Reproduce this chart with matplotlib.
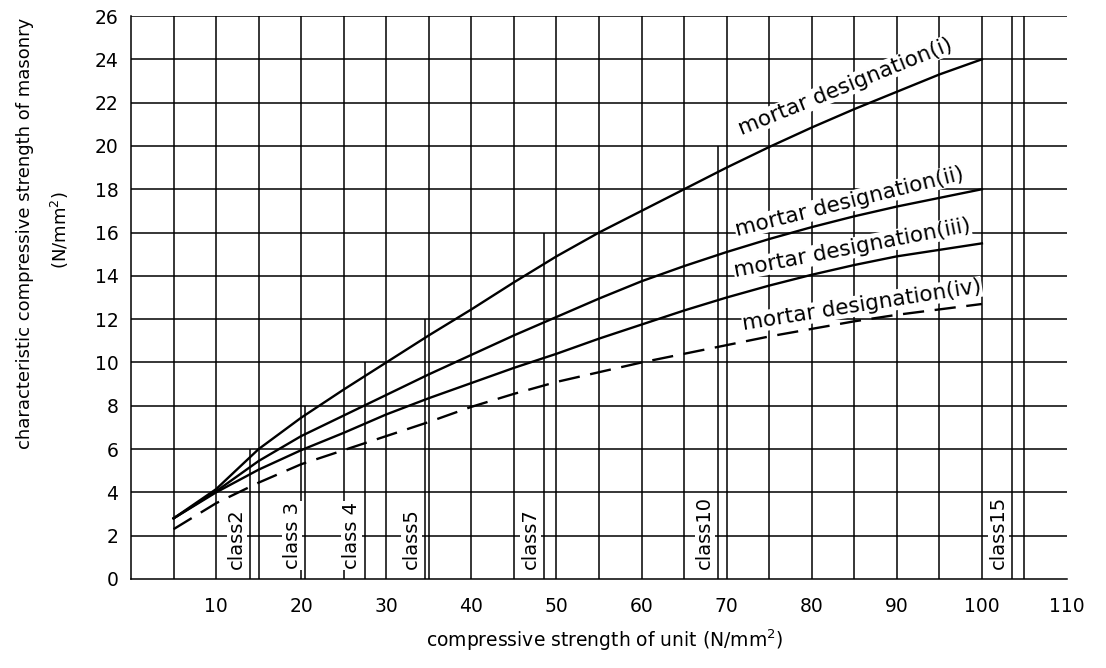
import numpy as np
import matplotlib as mpl
mpl.use('Agg')
import matplotlib.pyplot as plt

unit_strength = [5, 10, 15, 20, 25, 30, 35, 40, 45, 50,
                 55, 60, 65, 70, 75, 80, 85, 90, 95, 100]
mortar_i   = [2.8, 4.15, 6.0, 7.45, 8.75, 10.0, 11.25, 12.45, 13.7, 14.9,
              16.0, 17.0, 18.0, 19.0, 19.95, 20.85, 21.7, 22.5, 23.3, 24.0]
mortar_ii  = [2.8, 4.05, 5.45, 6.6, 7.55, 8.5, 9.45, 10.35, 11.25, 12.1,
              12.95, 13.75, 14.45, 15.1, 15.7, 16.25, 16.75, 17.2, 17.6, 18.0]
mortar_iii = [2.8, 4.0, 5.05, 5.95, 6.75, 7.6, 8.35, 9.05, 9.75, 10.4,
              11.1, 11.75, 12.4, 13.0, 13.55, 14.05, 14.5, 14.9, 15.2, 15.5]
mortar_iv  = [2.3, 3.5, 4.45, 5.3, 5.95, 6.6, 7.25, 7.95, 8.55, 9.1,
              9.55, 10.0, 10.4, 10.8, 11.2, 11.55, 11.9, 12.2, 12.45, 12.7]

# brick classes: position on unit strength axis and height of marker line
class_names = ['class2', 'class 3', 'class 4', 'class5', 'class7', 'class10', 'class15']
class_x     = [14, 20.5, 27.5, 34.5, 48.5, 69, 103.5]
class_top   = [6, 8, 10, 12, 16, 20, 26]

xtick_vals = [10, 20, 30, 40, 50, 60, 70, 80, 90, 100, 110]
ytick_vals = list(range(0, 27, 2))

plt.rcParams['font.family'] = ['DejaVu Sans']

fig = plt.figure(figsize=(11.06, 6.68), dpi=100)
ax = fig.add_axes([131/1106, 1-579/668, (1067-131)/1106, (579-16)/668])
ax.set_xlim(0, 110)
ax.set_ylim(0, 26)

lw_grid = 1.1
# grid
ax.vlines(np.arange(5, 110, 5), 0, 26, color='black', lw=lw_grid, zorder=1)
ax.hlines(np.arange(2, 27, 2), 0, 110, color='black', lw=lw_grid, zorder=1)
for s in ['top', 'right']:
  ax.spines[s].set_visible(False)
for s in ['left', 'bottom']:
  ax.spines[s].set_linewidth(lw_grid)

# class lines + labels
for name, cx, top in zip(class_names, class_x, class_top):
  ax.vlines(cx, 0, top, color='black', lw=lw_grid, zorder=2)
  ax.text(cx - 0.45, 0.45, name, rotation=90, ha='right', va='bottom',
          fontsize=14, zorder=3,
          bbox=dict(facecolor='white', edgecolor='none', pad=0.5))

# curves
ax.plot(unit_strength, mortar_i, color='black', lw=1.7, zorder=4)
ax.plot(unit_strength, mortar_ii, color='black', lw=1.7, zorder=4)
ax.plot(unit_strength, mortar_iii, color='black', lw=1.7, zorder=4)
ax.plot(unit_strength, mortar_iv, color='black', lw=1.7, zorder=4,
        dashes=(9, 4.5))

# curve labels
labels = [('mortar designation(i)', 71.7, 20.5, 22),
          ('mortar designation(ii)', 71.2, 15.85, 14),
          ('mortar designation(iii)', 71.0, 13.95, 11),
          ('mortar designation(iv)', 72.0, 11.5, 9)]
for txt, lx, ly, rot in labels:
  ax.text(lx, ly, txt, rotation=rot, rotation_mode='anchor',
          ha='left', va='baseline', fontsize=15.5, zorder=5,
          bbox=dict(facecolor='white', edgecolor='none', pad=0.3))

ax.set_xticks(xtick_vals)
ax.set_yticks(ytick_vals)
ax.tick_params(axis='x', length=0, pad=13, labelsize=13.5)
ax.tick_params(axis='y', length=0, pad=9, labelsize=13.5)

fig.text(605/1106, 1-640/668, 'compressive strength of unit (N/mm$^2$)',
         ha='center', va='center', fontsize=13.5)
fig.text(25/1106, 1-233/668, 'characteristic compressive strength of masonry',
         ha='center', va='center', rotation=90, fontsize=13)
fig.text(60/1106, 1-230/668, '(N/mm$^2$)',
         ha='center', va='center', rotation=90, fontsize=13)

plt.savefig('out.png', dpi=100)
plt.close()
